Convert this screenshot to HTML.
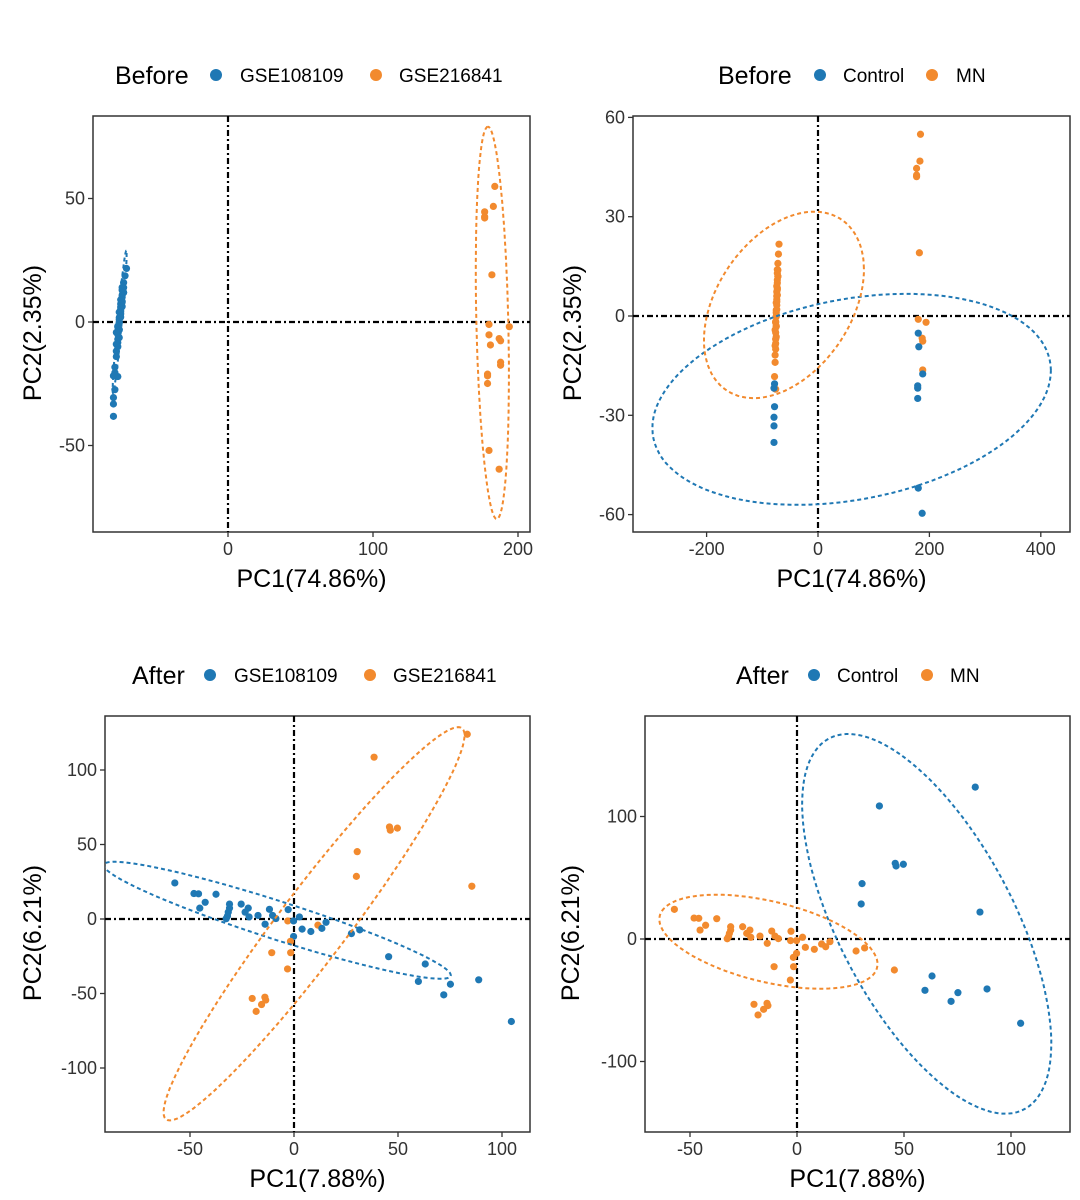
<!DOCTYPE html>
<html><head><meta charset="utf-8"><style>
html,body{margin:0;padding:0;background:#fff;}
svg{display:block;font-family:"Liberation Sans",Arial,sans-serif;}
</style></head><body>
<svg id="fig" width="1080" height="1200" viewBox="0 0 1080 1200" xmlns="http://www.w3.org/2000/svg"></svg>
<script>
// ---------- data: Before ----------
const beforeX = [-70,-71,-72,-72,-73,-72,-73,-73,-74,-73,-74,-74,-75,-75,-76,-75,-77,-75,-76,-77,-78,-76,
  -73,-72,-73,-74,-73,-74,-74,-75,-74,-75,-75,-76,-75,-76,-76,-77,-76,-77,
  -78,-79,-78,-79,-79,-79,
  184,183,177,177,177,182,180,194,187,188,188,
  180,181,188,179,179,179,180,187];
const beforeY = [21.7,18.7,15.9,13.9,12.9,11.9,10.9,8.4,7.3,6.3,4.3,3.3,1.8,-0.2,-1.7,-3.2,-4.2,-6.3,-8.3,-11.8,-18.3,-22.1,
  14,12,10,9,8,6,5,4,2,1,0,-2,-3,-5,-7,-9,-10,-14,
  -20.5,-21.8,-27.4,-30.6,-33.2,-38.2,
  54.9,46.8,44.6,42.6,42.1,19.1,-1,-1.9,-6.7,-7.6,-16.3,
  -5.2,-9.3,-17.5,-21.1,-21.8,-24.9,-52,-59.6];
const beforeBatch = ['A','A','A','A','A','A','A','A','A','A','A','A','A','A','A','A','A','A','A','A','A','A',
  'A','A','A','A','A','A','A','A','A','A','A','A','A','A','A','A','A','A',
  'A','A','A','A','A','A',
  'B','B','B','B','B','B','B','B','B','B','B',
  'B','B','B','B','B','B','B','B'];
const beforeGroup = ['M','M','M','M','M','M','M','M','M','M','M','M','M','M','M','M','M','M','M','M','M','M',
  'M','M','M','M','M','M','M','M','M','M','M','M','M','M','M','M','M','M',
  'C','C','C','C','C','C',
  'M','M','M','M','M','M','M','M','M','M','M',
  'C','C','C','C','C','C','C','C'];
// ---------- data: After ----------
const afterX = [83.3,38.5,45.9,46.3,49.7,30.4,30,85.5, 63.1,59.8,75.2,72,88.8,104.5,
  -57.3,-48.1,-45.9,-37.5,-45.3,-42.7,-31,-31,-31.6,-32,-32.6,-25.4,-22,-23.5,-21.6,-17.3,-13.9,-11.8,-10.3,-8.7,
  -2.8,-3,-0.2,2.6,3.9,8.1,11.5,13.4,15.4,27.6,31.6,-0.2,-1.7,-1.6,-10.7,-3.1,-20.1,-14,-13.6,-15.6,-18.2,45.5];
const afterY = [124,108.6,61.8,59.6,61,45.2,28.6,22, -30.2,-41.9,-43.8,-50.9,-40.8,-68.8,
  24.2,17.1,16.9,16.6,7.3,11.2,10,7.3,4.6,1.9,0.2,10,7.3,4.6,1.4,2.4,-3.5,6.5,2.4,0.3,
  6.3,-1.3,-1.3,1.4,-6.8,-8.4,-4.1,-6.3,-2.2,-9.8,-7.3,-11.7,-15,-22.6,-22.6,-33.5,-53.3,-52.5,-54.4,-57.4,-62,-25.3];
const afterBatch = ['B','B','B','B','B','B','B','B','A','A','A','A','A','A',
  'A','A','A','A','A','A','A','A','A','A','A','A','A','A','A','A','A','A','A','A',
  'A','B','A','A','A','A','B','A','A','A','A','A','B','B','B','B','B','B','B','B','B','A'];
const afterGroup = ['C','C','C','C','C','C','C','C','C','C','C','C','C','C',
  'M','M','M','M','M','M','M','M','M','M','M','M','M','M','M','M','M','M','M','M',
  'M','M','M','M','M','M','M','M','M','M','M','M','M','M','M','M','M','M','M','M','M','M'];
// ---------- panel config ----------
const BLUE='#1F78B4', ORANGE='#F28A2E';
const panels = [
 {id:'before-batch', x0:93,x1:530,y0:116,y1:532, xo:228,xs:1.45, yo:322,ys:2.47, xt:[0,100,200], yt:[-50,0,50],
  xs_:beforeX, ys_:beforeY, lab:beforeBatch, keys:['A','B'], names:['GSE108109','GSE216841'], title:'Before',
  tx:115, d1:216, n1:240, d2:376, n2:399, ly:75, ylabX:32, xlab:'PC1(74.86%)', ylab:'PC2(2.35%)', xlabY:587},
 {id:'before-group', x0:633,x1:1070,y0:116,y1:532, xo:818,xs:0.557, yo:316,ys:3.31, xt:[-200,0,200,400], yt:[-60,-30,0,30,60],
  xs_:beforeX, ys_:beforeY, lab:beforeGroup, keys:['C','M'], names:['Control','MN'], title:'Before',
  tx:718, d1:820, n1:843, d2:932, n2:956, ly:75, ylabX:572, xlab:'PC1(74.86%)', ylab:'PC2(2.35%)', xlabY:587},
 {id:'after-batch', x0:105,x1:530,y0:716,y1:1132, xo:294,xs:2.08, yo:919,ys:1.49, xt:[-50,0,50,100], yt:[-100,-50,0,50,100],
  xs_:afterX, ys_:afterY, lab:afterBatch, keys:['A','B'], names:['GSE108109','GSE216841'], title:'After',
  tx:132, d1:210, n1:234, d2:370, n2:393, ly:675, ylabX:32, xlab:'PC1(7.88%)', ylab:'PC2(6.21%)', xlabY:1187},
 {id:'after-group', x0:645,x1:1070,y0:716,y1:1132, xo:797,xs:2.14, yo:939,ys:1.225, xt:[-50,0,50,100], yt:[-100,0,100],
  xs_:afterX, ys_:afterY, lab:afterGroup, keys:['C','M'], names:['Control','MN'], title:'After',
  tx:736, d1:814, n1:837, d2:927, n2:950, ly:675, ylabX:570, xlab:'PC1(7.88%)', ylab:'PC2(6.21%)', xlabY:1187}
];
const svg=document.getElementById('fig');
const NS='http://www.w3.org/2000/svg';
function mk(tag,attrs,parent){const e=document.createElementNS(NS,tag);for(const k in attrs)e.setAttribute(k,attrs[k]);(parent||svg).appendChild(e);return e;}
function txt(s,attrs,parent){const e=mk('text',attrs,parent);e.textContent=s;return e;}
function trob(xs,ys){
  const n=xs.length,nu=5;let w=new Array(n).fill(1),mx=0,my=0,a=0,b=0,c=0;
  for(let it=0;it<80;it++){
    const sw=w.reduce((p,q)=>p+q);mx=0;my=0;
    for(let i=0;i<n;i++){mx+=w[i]*xs[i];my+=w[i]*ys[i];}mx/=sw;my/=sw;
    a=0;b=0;c=0;
    for(let i=0;i<n;i++){const dx=xs[i]-mx,dy=ys[i]-my;a+=w[i]*dx*dx;b+=w[i]*dx*dy;c+=w[i]*dy*dy;}
    a/=n;b/=n;c/=n;
    const det=a*c-b*b;if(det<=0)break;
    for(let i=0;i<n;i++){const dx=xs[i]-mx,dy=ys[i]-my;const d2=(c*dx*dx-2*b*dx*dy+a*dy*dy)/det;w[i]=(nu+2)/(nu+d2);}
  }
  return [mx,my,a,b,c];
}
panels.forEach((p,pi)=>{
  const sx=v=>p.xo+p.xs*v, sy=v=>p.yo-p.ys*v;
  const g=mk('g',{});
  
  
  const cp=mk('clipPath',{id:'clip'+pi},g); mk('rect',{x:p.x0,y:p.y0,width:p.x1-p.x0,height:p.y1-p.y0},cp);
  const t=txt(p.title,{x:p.tx,y:p.ly+9,'font-size':25,fill:'#000'},g);
  
  
  [[p.d1,p.n1,p.names[0],BLUE],[p.d2,p.n2,p.names[1],ORANGE]].forEach(([d,n,name,c])=>{
    const lg=mk('g',{},g);
    
    
    mk('circle',{cx:d,cy:p.ly,r:6,fill:c},lg);
    txt(name,{x:n,y:p.ly+7,'font-size':19,fill:'#000'},lg);
  });
  const fr=mk('rect',{x:p.x0,y:p.y0,width:p.x1-p.x0,height:p.y1-p.y0,fill:'none',stroke:'#333','stroke-width':1.5},g);
  
  
  p.xt.forEach(v=>{const x=sx(v);mk('line',{x1:x,x2:x,y1:p.y1,y2:p.y1+5,stroke:'#333','stroke-width':1.3},g);
    const l=txt(String(v),{x:x,y:p.y1+23,'font-size':18,'text-anchor':'middle',fill:'#333'},g);
    
    });
  p.yt.forEach(v=>{const y=sy(v);mk('line',{x1:p.x0-5,x2:p.x0,y1:y,y2:y,stroke:'#333','stroke-width':1.3},g);
    const l=txt(String(v),{x:p.x0-8,y:y+6,'font-size':18,'text-anchor':'end',fill:'#333'},g);
    
    });
  const xl=txt(p.xlab,{x:(p.x0+p.x1)/2,y:p.xlabY,'font-size':25,'text-anchor':'middle',fill:'#000'},g);
  
  
  const cy=(p.y0+p.y1)/2;
  const yl=txt(p.ylab,{x:p.ylabX,y:cy,'font-size':25,'text-anchor':'middle',fill:'#000',transform:'rotate(-90 '+(p.ylabX+9)+' '+cy+')'},g);
  
  
  const inner=mk('g',{'clip-path':'url(#clip'+pi+')'},g);
  const vl=mk('line',{x1:sx(0),x2:sx(0),y1:p.y0,y2:p.y1,stroke:'#000','stroke-width':2.2,'stroke-dasharray':'6,3,2,3'},inner);
  
  
  const hl=mk('line',{x1:p.x0,x2:p.x1,y1:sy(0),y2:sy(0),stroke:'#000','stroke-width':2.2,'stroke-dasharray':'6,3,2,3'},inner);
  
  
  p.xs_.forEach((v,i)=>{
    const c=p.lab[i]===p.keys[0]?BLUE:ORANGE;
    const pt=mk('circle',{cx:sx(v),cy:sy(p.ys_[i]),r:3.6,fill:c},inner);
    
    
  });
  p.keys.forEach((k,ki)=>{
    const xs=[],ys=[];p.xs_.forEach((v,i)=>{if(p.lab[i]===k){xs.push(v);ys.push(p.ys_[i]);}});
    const n=xs.length;
    const [mx,my,a,b,c]=trob(xs,ys);
    const df=n-1, F=df/2*(Math.pow(0.05,-2/df)-1), K=Math.sqrt(2*F);
    const tr=a+c,det=a*c-b*b,disc=Math.sqrt(Math.max(tr*tr/4-det,0)),l1=tr/2+disc,l2=tr/2-disc;
    const th=Math.abs(b)<1e-12?(a>=c?0:Math.PI/2):Math.atan2(l1-a,b);
    const r1=K*Math.sqrt(Math.max(l1,0)),r2=K*Math.sqrt(Math.max(l2,0));
    let d='';for(let j=0;j<=120;j++){const t=j/120*2*Math.PI;
      const ex=mx+r1*Math.cos(t)*Math.cos(th)-r2*Math.sin(t)*Math.sin(th);
      const ey=my+r1*Math.cos(t)*Math.sin(th)+r2*Math.sin(t)*Math.cos(th);
      d+=(j?'L':'M')+sx(ex).toFixed(1)+','+sy(ey).toFixed(1);}
    const el=mk('path',{d:d,fill:'none',stroke:ki?ORANGE:BLUE,'stroke-width':2,'stroke-dasharray':'4,3'},inner);
    
    
  });
});
</script>
</body></html>
